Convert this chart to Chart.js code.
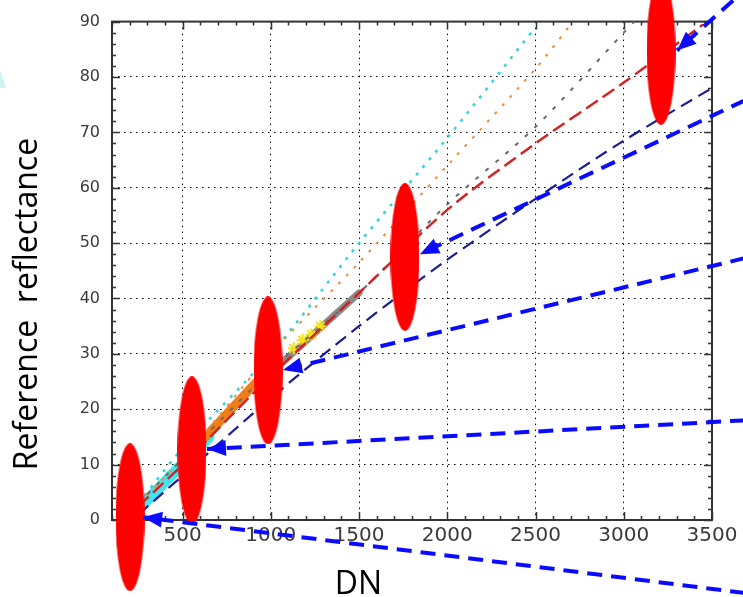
<!DOCTYPE html>
<html>
<head>
<meta charset="utf-8">
<script src="https://cdn.jsdelivr.net/npm/chart.js@4/dist/chart.umd.min.js"></script>
<style>
    html, body { margin: 0; padding: 0; background: #fff; overflow: hidden; }
    #wrap { position: relative; width: 743px; height: 597px; }
    .axis-title { position: absolute; font-family: 'Open Sans', sans-serif; font-size: 32px; line-height: 40px; color: #000; text-align: center; white-space: pre; }
    #ytitle { left: -174.6px; top: 284px; width: 400px; height: 40px; transform: rotate(-90deg); }
    #xtitle { left: 308.5px; top: 562px; width: 100px; height: 40px; }
    #deco { position: absolute; left: 0; top: 70px; width: 6px; height: 18px; background: #b8ecee; clip-path: polygon(0 0, 100% 100%, 0 100%); opacity: 0.7; }
</style>
</head>
<body>
<div id="wrap">
    <canvas id="chart" width="743" height="597"></canvas>
    <div id="deco"></div>
    <div class="axis-title" id="ytitle">Reference  reflectance</div>
    <div class="axis-title" id="xtitle">DN</div>
</div>
<script>
// ----------------------------------------------------------------------------
// data (DN vs reference reflectance)
// ----------------------------------------------------------------------------
const xTickValues = [500, 1000, 1500, 2000, 2500, 3000, 3500];
const yTickValues = [0, 10, 20, 30, 40, 50, 60, 70, 80, 90];

// fitted lines
const dnCyan = [250, 500, 1000, 1500, 2000, 2500];
const reflCyan = [3, 13, 30, 50, 69, 89];
const dnOrange = [250, 500, 1000, 1500, 2000, 2500, 2700];
const reflOrange = [3, 11, 30, 46.5, 64, 81.5, 89.5];
const dnGray = [250, 1000, 1500, 2000, 2500, 3000, 3060];
const reflGray = [3, 27, 41, 57, 71, 88, 90];
const dnRed = [250, 500, 1000, 1500, 2000, 2500, 3000, 3450];
const reflRed = [2.5, 10, 26, 41, 56, 68, 79, 89.5];
const dnNavy = [250, 500, 1000, 1500, 2000, 2500, 3000, 3500];
const reflNavy = [1, 8, 22, 35, 47, 58, 68.5, 78];

// measured sample clouds
const dnCyanBand = [220, 650];
const reflCyanBand = [1, 15];
const dnOrangeBand = [600, 950];
const reflOrangeBand = [14, 26];
const dnGrayBand = [1050, 1500];
const reflGrayBand = [28, 41];
const dnYellow = [1130, 1180, 1230, 1280];
const reflYellow = [31, 32.5, 33.5, 35];

// red markers
const markerDN = [202, 553, 984, 1760, 3211];
const markerRefl = [0.5, 12.6, 27, 47.5, 84.7];

// blue callout arrows (start outside the plot -> tip at a marker)
const arrowStartDN = [3687, 3687, 3687, 3687, 3619];
const arrowStartRefl = [-13.2, 18.0, 47.3, 75.8, 93.8];
const arrowTipDN = [276, 638, 1069, 1845, 3302];
const arrowTipRefl = [0.5, 12.8, 27.1, 48.0, 84.8];

const X_MIN = 100, X_MAX = 3500, X_MINOR = 100;
const Y_MIN = 0, Y_MAX = 90, Y_MINOR = 2;

function pts(xs, ys) {
    return xs.map((v, i) => ({ x: v, y: ys[i] }));
}

// ellipse image used as point style for the red markers
function ellipseImage(w, h, color) {
    const c = document.createElement('canvas');
    c.width = w;
    c.height = h;
    const g = c.getContext('2d');
    g.fillStyle = color;
    g.beginPath();
    g.ellipse(w / 2, h / 2, w / 2, h / 2, 0, 0, Math.PI * 2);
    g.fill();
    return c;
}

// frame with inward major/minor ticks on all four sides
const frameTicks = {
    id: 'frameTicks',
    beforeDatasetsDraw(chart) {
        const { ctx, chartArea: a, scales: { x, y } } = chart;
        ctx.save();
        ctx.strokeStyle = '#333';
        ctx.lineWidth = 1.5;
        ctx.beginPath();
        for (let v = X_MIN; v <= X_MAX; v += X_MINOR) {
            const px = Math.round(x.getPixelForValue(v)) + 0.5;
            const len = v % 500 === 0 ? 8 : 4;
            ctx.moveTo(px, a.bottom); ctx.lineTo(px, a.bottom - len);
            ctx.moveTo(px, a.top); ctx.lineTo(px, a.top + len);
        }
        for (let v = Y_MIN; v <= Y_MAX; v += Y_MINOR) {
            const py = Math.round(y.getPixelForValue(v)) + 0.5;
            const len = v % 10 === 0 ? 8 : 4;
            ctx.moveTo(a.left, py); ctx.lineTo(a.left + len, py);
            ctx.moveTo(a.right, py); ctx.lineTo(a.right - len, py);
        }
        ctx.stroke();
        ctx.lineWidth = 2;
        ctx.strokeRect(a.left, a.top, a.right - a.left, a.bottom - a.top);
        ctx.restore();
    }
};

// filled arrow head at the last point of datasets flagged arrowHead
const arrowHeads = {
    id: 'arrowHeads',
    afterDatasetsDraw(chart) {
        const { ctx } = chart;
        chart.data.datasets.forEach((ds, i) => {
            if (!ds.arrowHead) return;
            const p = chart.getDatasetMeta(i).data;
            const p1 = p[p.length - 2], p2 = p[p.length - 1];
            const ang = Math.atan2(p2.y - p1.y, p2.x - p1.x);
            const L = 19, W = 8;
            ctx.save();
            ctx.translate(p2.x, p2.y);
            ctx.rotate(ang);
            ctx.fillStyle = ds.borderColor;
            ctx.beginPath();
            ctx.moveTo(0, 0);
            ctx.lineTo(-L, -W);
            ctx.lineTo(-L, W);
            ctx.closePath();
            ctx.fill();
            ctx.restore();
        });
    }
};

const arrowColor = '#0a0aff';
const arrowSets = arrowTipDN.map((d, i) => ({
    data: [
        { x: arrowStartDN[i], y: arrowStartRefl[i] },
        { x: d, y: arrowTipRefl[i] }
    ],
    borderColor: arrowColor,
    borderWidth: 4,
    borderDash: [15, 9],
    pointRadius: 0,
    clip: false,
    arrowHead: true,
    order: 0
}));

function fitLine(xs, ys, color, width, dash, order) {
    return {
        data: pts(xs, ys),
        borderColor: color,
        borderWidth: width,
        borderDash: dash,
        pointRadius: 0,
        tension: 0.3,
        order: order
    };
}

function band(xs, ys, color, width) {
    return {
        data: pts(xs, ys),
        borderColor: color,
        borderWidth: width,
        borderCapStyle: 'round',
        pointRadius: 0,
        order: 5
    };
}

const datasets = [
    ...arrowSets,
    {
        data: pts(markerDN, markerRefl),
        showLine: false,
        pointStyle: ellipseImage(29, 148, '#ff0000'),
        pointRadius: 10,
        clip: false,
        order: 1
    },
    fitLine(dnRed, reflRed, '#d42020', 2.4, [14, 6], 2),
    fitLine(dnNavy, reflNavy, '#1c1c96', 2.2, [13, 7], 2),
    fitLine(dnGray, reflGray, '#6a6a6a', 2, [4, 9], 3),
    fitLine(dnOrange, reflOrange, '#e8903e', 2, [3, 8], 3),
    fitLine(dnCyan, reflCyan, '#2ad6dc', 2.5, [3, 7], 3),
    {
        data: pts(dnYellow, reflYellow),
        showLine: false,
        pointStyle: 'star',
        pointRadius: 6,
        borderWidth: 2,
        borderColor: '#f2e21a',
        backgroundColor: '#f2e21a',
        order: 4
    },
    band(dnGrayBand, reflGrayBand, '#8a8a8a', 7),
    band(dnOrangeBand, reflOrangeBand, '#ef7d1a', 9),
    band(dnCyanBand, reflCyanBand, '#3fe6f0', 11)
];

new Chart(document.getElementById('chart'), {
    type: 'line',
    data: { datasets: datasets },
    options: {
        responsive: false,
        animation: false,
        layout: { padding: { top: 21, right: 31, left: 0, bottom: 0 } },
        plugins: {
            legend: { display: false },
            tooltip: { enabled: false }
        },
        scales: {
            x: {
                type: 'linear',
                min: X_MIN,
                max: X_MAX,
                afterBuildTicks: (scale) => {
                    scale.ticks = xTickValues.map(v => ({ value: v }));
                },
                afterFit: (scale) => { scale.height = 77; },
                grid: { color: '#000', lineWidth: 1, drawTicks: false },
                border: { display: false, dash: [1.5, 4.5] },
                ticks: {
                    color: '#3a3a3a',
                    padding: 4,
                    maxRotation: 0,
                    font: { family: 'DejaVu Sans', size: 20 },
                    callback: (v) => String(v)
                }
            },
            y: {
                type: 'linear',
                min: Y_MIN,
                max: Y_MAX,
                afterBuildTicks: (scale) => {
                    scale.ticks = yTickValues.map(v => ({ value: v }));
                },
                afterFit: (scale) => { scale.width = 112; },
                grid: { color: '#000', lineWidth: 1, drawTicks: false },
                border: { display: false, dash: [1.5, 4.5] },
                ticks: {
                    color: '#3a3a3a',
                    padding: 12,
                    font: { family: 'DejaVu Sans', size: 16 },
                    callback: (v) => String(v)
                }
            }
        }
    },
    plugins: [frameTicks, arrowHeads]
});
</script>
</body>
</html>
